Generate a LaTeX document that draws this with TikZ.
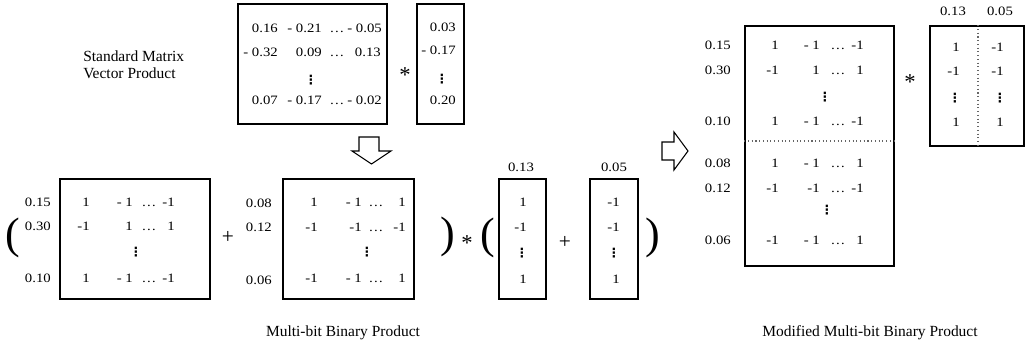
\documentclass[tikz,border=0pt]{standalone}
\usepackage{fontspec}
\setmainfont{Liberation Serif}
\newfontfamily\numfont[FakeStretch=1.15]{Liberation Serif}
\newfontfamily\dotfont{DejaVu Sans}
\newcommand{\vdts}{{\dotfont\bfseries ⋮}}
\newcommand{\colA}{0}\newcommand{\colB}{0}\newcommand{\colC}{0}\newcommand{\colD}{0}
% #1 name, #2 baseline y, #3 c1, #4 c2, #5 c4
\newcommand{\binrow}[5]{%
  \node[num,anchor=base east] (#1a) at (\colA,#2) {#3};
  \node[num,anchor=base east] (#1b) at (\colB,#2) {#4};
  \node[num,anchor=base] (#1c) at (\colC,#2) {…};
  \node[num,anchor=base east] (#1d) at (\colD,#2) {#5};}
\begin{document}
\begin{tikzpicture}[x=0.75pt,y=-0.75pt,
  mat/.style 2 args={draw,line width=1.1pt,minimum width={#1*0.75pt},minimum height={#2*0.75pt},inner sep=0pt},
  num/.style={font=\numfont\fontsize{9.6}{10}\selectfont,inner sep=0pt},
  dts/.style={font=\fontsize{9.5}{10}\selectfont,inner sep=0pt},
  captxt/.style={font=\fontsize{11.6}{12.8}\selectfont,inner sep=0pt,align=left},
  op/.style={font=\fontsize{16}{17}\selectfont,inner sep=0pt},
  ast/.style={font=\fontsize{17}{18}\selectfont,inner sep=0pt},
  paren/.style={font=\fontsize{33}{36}\selectfont,inner sep=0pt},
  blk/.style={draw,line width=0.8pt,line join=miter},
  sep/.style={draw=black!60,line width=0.8pt,dotted}]
\useasboundingbox (0,0) rectangle (1026,346);

% ---------- Standard matrix vector product ----------
\node[captxt,anchor=west] (title1) at (83,64.5) {Standard Matrix\\Vector Product};
\node[mat={149}{120}] (TM) at (312.5,64) {};
\node[mat={47}{120}] (TV) at (440.5,64) {};
\node[ast] (star1) at (405,75) {*};

\node[num,anchor=base east] (t11) at (278,33) {0.16};
\node[num,anchor=base east] (t12) at (322,33) {- 0.21};
\node[num,anchor=base] (t13) at (337,33) {…};
\node[num,anchor=base east] (t14) at (382,33) {- 0.05};
\node[num,anchor=base east] (t21) at (278,57) {- 0.32};
\node[num,anchor=base east] (t22) at (322,57) {0.09};
\node[num,anchor=base] (t23) at (337,57) {…};
\node[num,anchor=base east] (t24) at (381,57) {0.13};
\node[dts] (t3) at (311,80) {\vdts};
\node[num,anchor=base east] (t41) at (278,105) {0.07};
\node[num,anchor=base east] (t42) at (322,105) {- 0.17};
\node[num,anchor=base] (t43) at (337,105) {…};
\node[num,anchor=base east] (t44) at (382,105) {- 0.02};

\node[num,anchor=base east] (v1) at (456,32) {0.03};
\node[num,anchor=base east] (v2) at (456,55) {- 0.17};
\node[dts] (v3) at (442,79) {\vdts};
\node[num,anchor=base east] (v4) at (456,105) {0.20};

% down arrow
\draw[blk] (359,137) -- (379,137) -- (379,151) -- (391,151) -- (371.5,164) -- (352,151) -- (359,151) -- cycle;

% ---------- Multi-bit binary product ----------
\node[paren] (p1) at (13,238) {(};
\node[mat={150}{120}] (M1) at (135,239) {};
\node[num,anchor=base east] (l11) at (51,206) {0.15};
\node[num,anchor=base east] (l12) at (51,230) {0.30};
\node[num,anchor=base east] (l13) at (51,282) {0.10};
\renewcommand{\colA}{90}\renewcommand{\colB}{133}\renewcommand{\colC}{149}\renewcommand{\colD}{175}
\binrow{m1r1}{206}{1}{- 1}{-1}
\binrow{m1r2}{230}{-1}{1}{1}
\node[dts] (m1d) at (136,252) {\vdts};
\binrow{m1r4}{282}{1}{- 1}{-1}

\node[op] (plus1) at (228,237) {+};

\node[mat={131}{120}] (M2) at (348.5,239) {};
\node[num,anchor=base east] (l21) at (272,207) {0.08};
\node[num,anchor=base east] (l22) at (272,232) {0.12};
\node[num,anchor=base east] (l23) at (272,284) {0.06};
\renewcommand{\colA}{318}\renewcommand{\colB}{362}\renewcommand{\colC}{376}\renewcommand{\colD}{406}
\binrow{m2r1}{206}{1}{- 1}{1}
\binrow{m2r2}{231}{-1}{-1}{-1}
\node[dts] (m2d) at (367,252) {\vdts};
\binrow{m2r4}{282}{-1}{- 1}{1}

\node[paren] (p2) at (448,237) {)};
\node[ast] (star2) at (467,243) {*};
\node[paren] (p3) at (488,238) {(};

\node[num] (w1) at (521,167) {0.13};
\node[mat={47}{120}] (V1) at (522.5,239) {};
\node[num,anchor=base east] (v11) at (527,206) {1};
\node[num,anchor=base east] (v12) at (527,231) {-1};
\node[dts] (v13) at (522,253) {\vdts};
\node[num,anchor=base east] (v14) at (527,283) {1};

\node[op] (plus2) at (565,242) {+};

\node[num] (w2) at (614,167) {0.05};
\node[mat={48}{120}] (V2) at (614,239) {};
\node[num,anchor=base east] (v21) at (620,206) {-1};
\node[num,anchor=base east] (v22) at (620,231) {-1};
\node[dts] (v23) at (614,253) {\vdts};
\node[num,anchor=base east] (v24) at (620,283) {1};

\node[paren] (p4) at (653,238) {)};

\node[captxt] (cap1) at (343,333) {Multi-bit Binary Product};

% right arrow
\draw[blk] (662,142) -- (674,142) -- (674,132) -- (688,151) -- (674,170) -- (674,160) -- (662,160) -- cycle;

% ---------- Modified multi-bit binary product ----------
\node[mat={149}{240}] (BM) at (819.5,146) {};
\draw[sep] ([yshift=3.75pt]BM.west) -- ([yshift=3.75pt]BM.east);
\node[num,anchor=base east] (b1) at (731,50) {0.15};
\node[num,anchor=base east] (b2) at (731,75) {0.30};
\node[num,anchor=base east] (b3) at (731,126) {0.10};
\node[num,anchor=base east] (b4) at (731,167) {0.08};
\node[num,anchor=base east] (b5) at (731,192) {0.12};
\node[num,anchor=base east] (b6) at (731,244) {0.06};
\renewcommand{\colA}{779}\renewcommand{\colB}{820}\renewcommand{\colC}{838}\renewcommand{\colD}{864}
\binrow{br1}{50}{1}{- 1}{-1}
\binrow{br2}{75}{-1}{1}{1}
\node[dts] (bd1) at (825,97) {\vdts};
\binrow{br3}{126}{1}{- 1}{-1}
\binrow{br4}{167}{1}{- 1}{1}
\binrow{br5}{192}{-1}{-1}{-1}
\node[dts] (bd2) at (827,210) {\vdts};
\binrow{br6}{244}{-1}{- 1}{1}

\node[ast] (star3) at (910,82) {*};

\node[mat={94}{120}] (RV) at (977,86) {};
\draw[sep] ([xshift=0.75pt]RV.north) -- ([xshift=0.75pt]RV.south);
\node[num] (rl1) at (953,11) {0.13};
\node[num] (rl2) at (1000,11) {0.05};
\node[num,anchor=base east] (r11) at (960,52) {1};
\node[num,anchor=base east] (r12) at (960,76) {-1};
\node[dts] (r13) at (955,98) {\vdts};
\node[num,anchor=base east] (r14) at (960,127) {1};
\node[num,anchor=base east] (r21) at (1004,52) {-1};
\node[num,anchor=base east] (r22) at (1004,76) {-1};
\node[dts] (r23) at (1000,98) {\vdts};
\node[num,anchor=base east] (r24) at (1004,127) {1};

\node[captxt] (cap2) at (870,333) {Modified Multi-bit Binary Product};
\end{tikzpicture}
\end{document}
